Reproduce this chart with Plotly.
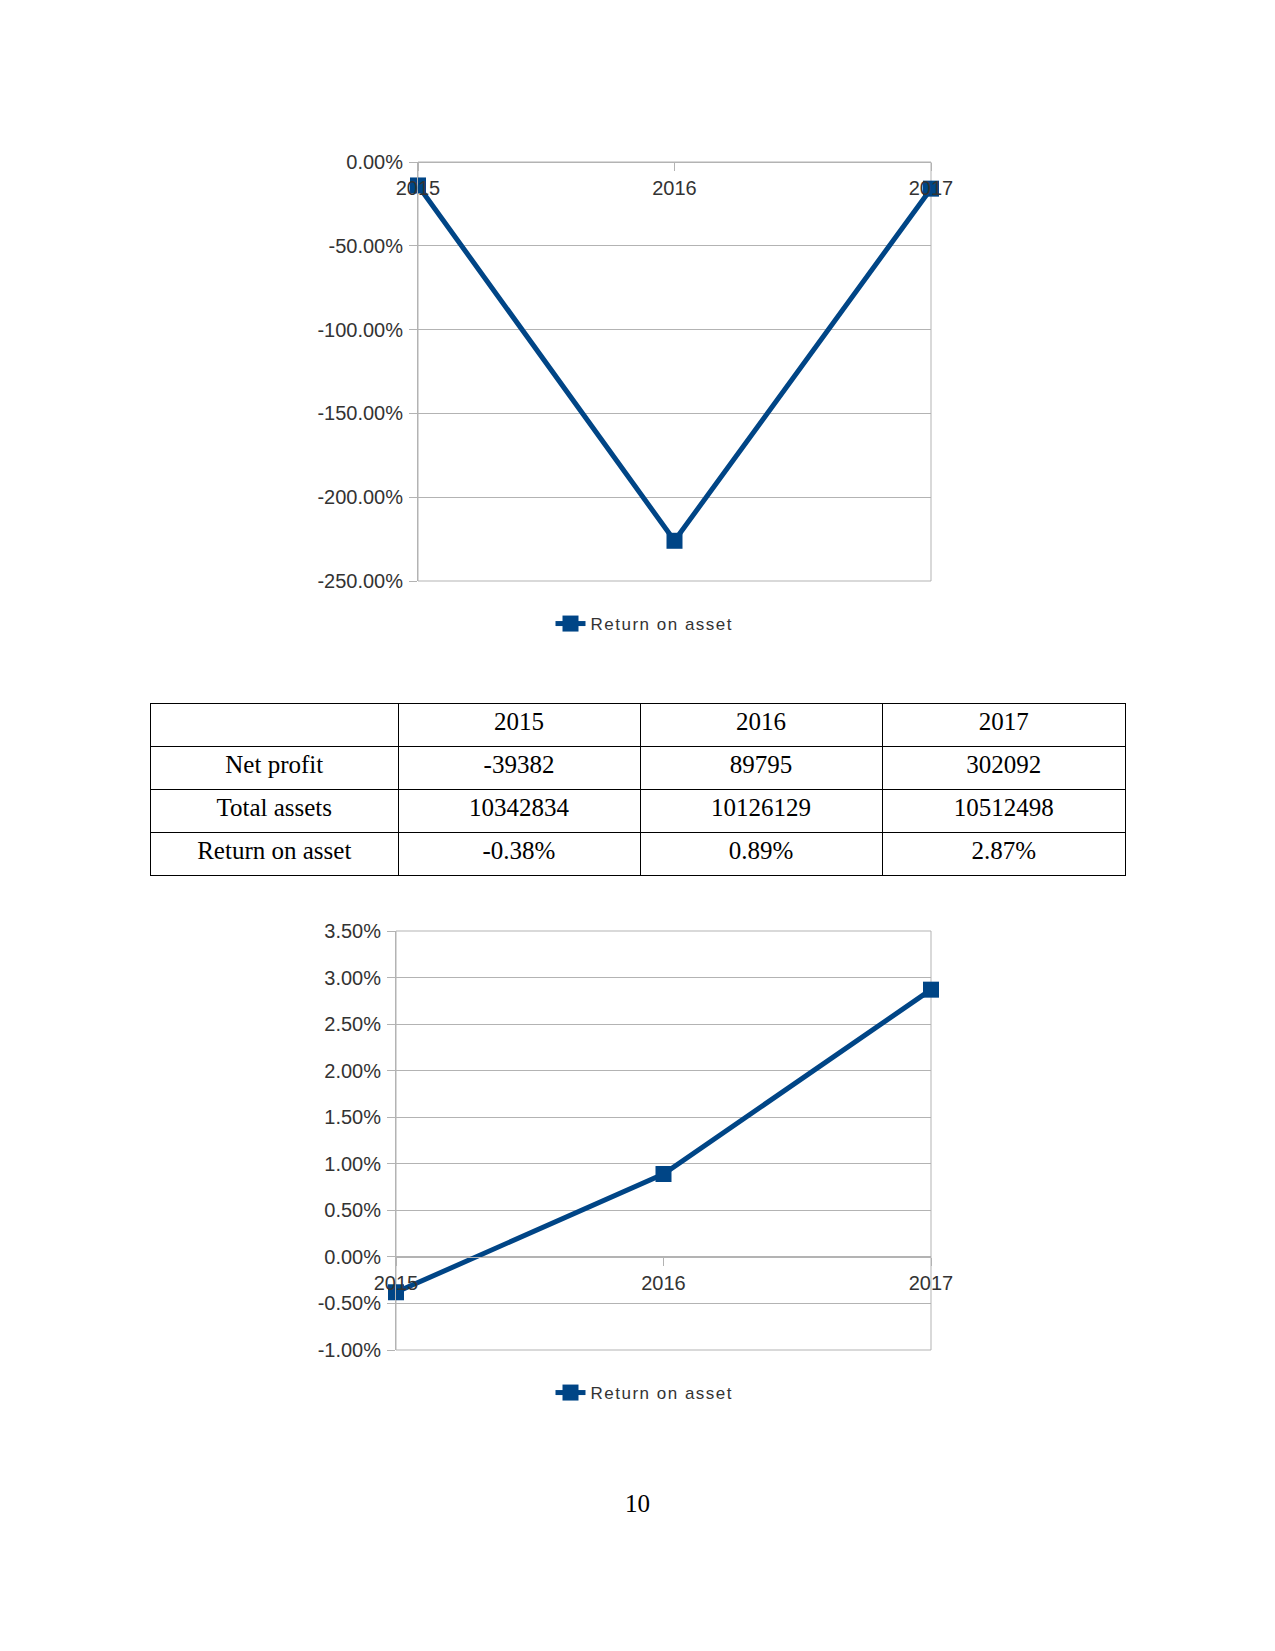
import plotly.graph_objects as go

# ---------------- data ----------------
years = ["2015", "2016", "2017"]
series_name = "Return on asset"

# first chart (fraction units)
roa_chart1 = [-0.140, -2.26, -0.159]
y1_ticks = [0.0, -0.5, -1.0, -1.5, -2.0, -2.5]
y1_labels = ["0.00%", "-50.00%", "-100.00%", "-150.00%", "-200.00%", "-250.00%"]
y1_range = [-2.5, 0.0]

# second chart
roa_chart2 = [-0.0038, 0.0089, 0.0287]
y2_ticks = [0.035, 0.03, 0.025, 0.02, 0.015, 0.01, 0.005, 0.0, -0.005, -0.01]
y2_labels = ["3.50%", "3.00%", "2.50%", "2.00%", "1.50%", "1.00%", "0.50%", "0.00%", "-0.50%", "-1.00%"]
y2_range = [-0.01, 0.035]

# table
table_header = ["", "2015", "2016", "2017"]
row_labels = ["Net profit", "Total assets", "Return on asset"]
net_profit = ["-39382", "89795", "302092"]
total_assets = ["10342834", "10126129", "10512498"]
return_on_asset = ["-0.38%", "0.89%", "2.87%"]
page_number = "10"

# ---------------- styling / layout ----------------
W, H = 1275, 1651
BLUE = "#004586"
GRID = "#b3b3b3"
TXT = "#333333"
SANS = "Liberation Sans, Arial, sans-serif"
SERIF = "Liberation Serif, Times New Roman, serif"


def px_x(p):
    return p / W


def px_y(p):
    return 1 - p / H


c1_x = [px_x(418), px_x(931)]
c1_y = [px_y(581), px_y(162)]
c2_x = [px_x(396), px_x(931)]
c2_y = [px_y(1350), px_y(931)]


def zero_pos(dom, rng):
    frac = (0 - rng[0]) / (rng[1] - rng[0])
    return dom[0] + frac * (dom[1] - dom[0])


fig = go.Figure()

fig.add_trace(go.Scatter(
    x=years, y=roa_chart1, mode="lines+markers", name=series_name,
    line=dict(color=BLUE, width=5),
    marker=dict(symbol="square", size=16, color=BLUE),
    xaxis="x", yaxis="y", cliponaxis=False, legend="legend",
))
fig.add_trace(go.Scatter(
    x=years, y=roa_chart2, mode="lines+markers", name=series_name,
    line=dict(color=BLUE, width=5),
    marker=dict(symbol="square", size=16, color=BLUE),
    xaxis="x2", yaxis="y2", cliponaxis=False, legend="legend2",
))

# table
cols = [row_labels] + [[net_profit[i], total_assets[i], return_on_asset[i]] for i in range(3)]
fig.add_trace(go.Table(
    domain=dict(x=[px_x(150.5), px_x(1126)], y=[px_y(882), px_y(703)]),
    columnwidth=[247.5, 242, 242, 243.5],
    header=dict(values=table_header, height=43, align="center",
                line=dict(color="black", width=1), fill=dict(color="white"),
                font=dict(family=SERIF, size=25, color="black")),
    cells=dict(values=cols, height=43.3, align="center",
               line=dict(color="black", width=1), fill=dict(color="white"),
               font=dict(family=SERIF, size=25, color="black")),
))

xaxis_common = dict(
    type="category", range=[0, 2], showgrid=False, showline=True,
    linecolor=GRID, linewidth=1, ticks="outside", ticklen=8, tickcolor=GRID,
    tickfont=dict(family=SANS, size=20, color=TXT), ticklabelstandoff=0,
    side="bottom", anchor="free", fixedrange=True, automargin=False,
)
yaxis_common = dict(
    showgrid=True, gridcolor=GRID, gridwidth=1, zeroline=False,
    showline=True, linecolor=GRID, linewidth=1, ticks="outside", ticklen=8,
    tickcolor=GRID, tickfont=dict(family=SANS, size=20, color=TXT),
    ticklabelstandoff=2, fixedrange=True, automargin=False,
)

LEG_X = px_x(633.5)

fig.update_layout(
    width=W, height=H, autosize=False,
    margin=dict(l=0, r=0, t=0, b=0, pad=0, autoexpand=False),
    paper_bgcolor="white", plot_bgcolor="white",
    xaxis=dict(xaxis_common, domain=c1_x, position=zero_pos(c1_y, y1_range)),
    yaxis=dict(yaxis_common, domain=c1_y, range=y1_range, tickvals=y1_ticks, ticktext=y1_labels, anchor="x"),
    xaxis2=dict(xaxis_common, domain=c2_x, position=zero_pos(c2_y, y2_range)),
    yaxis2=dict(yaxis_common, domain=c2_y, range=y2_range, tickvals=y2_ticks, ticktext=y2_labels, anchor="x2"),
    legend=dict(x=LEG_X, y=px_y(624), xanchor="center", yanchor="middle",
                orientation="h", bgcolor="rgba(0,0,0,0)",
                font=dict(family=SANS, size=17, color=TXT)),
    legend2=dict(x=LEG_X, y=px_y(1393), xanchor="center", yanchor="middle",
                 orientation="h", bgcolor="rgba(0,0,0,0)",
                 font=dict(family=SANS, size=17, color=TXT)),
    shapes=[
        dict(type="rect", xref="x domain", yref="y domain", x0=0, x1=1, y0=0, y1=1,
             line=dict(color=GRID, width=1), layer="below"),
        dict(type="rect", xref="x2 domain", yref="y2 domain", x0=0, x1=1, y0=0, y1=1,
             line=dict(color=GRID, width=1), layer="below"),
    ],
    annotations=[
        dict(text=page_number, xref="paper", yref="paper", x=px_x(637), y=px_y(1503),
             xanchor="center", yanchor="middle", showarrow=False,
             font=dict(family=SERIF, size=25, color="black")),
    ],
    showlegend=True,
)

# letter-spaced legend text as in the original; stylesheet applies to both legends
post = (
    "var st=document.createElement('style');"
    "st.textContent='text.legendtext, g[class*=\"legend\"] text{letter-spacing:1.5px !important;}"
    " g[class*=\"legend\"], g[class*=\"legend\"] *{clip-path:none !important;}';"
    "document.head.appendChild(st);"
    "setTimeout(function(){document.querySelectorAll('text.legendtext').forEach(function(e){"
    "e.style.setProperty('letter-spacing','1.5px','important');});}, 50);"
)
fig.write_html("out.html", config={"displayModeBar": False}, post_script=post)
